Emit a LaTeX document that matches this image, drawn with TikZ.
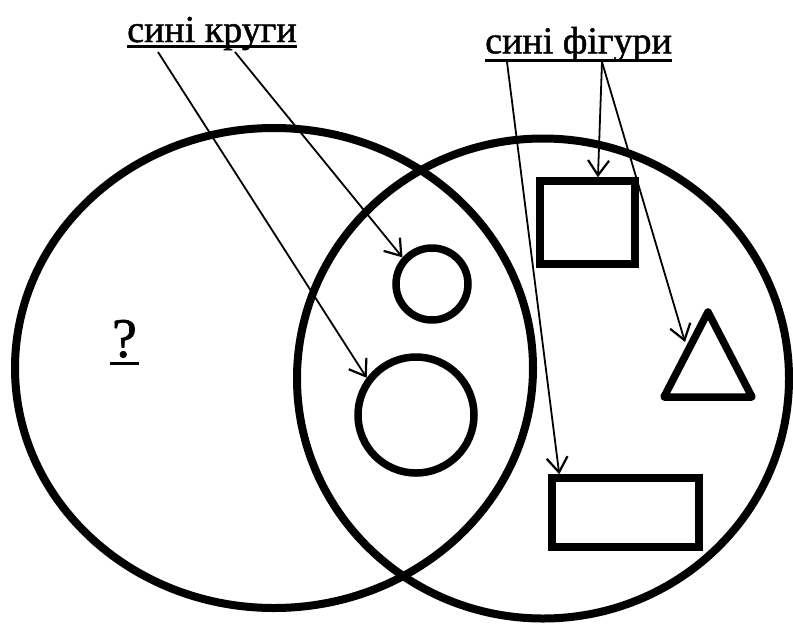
\documentclass[tikz,border=0pt]{standalone}
\usepackage{fontspec}
\setmainfont[FakeBold=1.2]{Liberation Serif}
\usetikzlibrary{arrows.meta,calc}
\begin{document}
\begin{tikzpicture}[x=1pt,y=-1pt,
  set/.style={line width=8pt},
  fig/.style={draw,line width=7.5pt,inner sep=0pt},
  ptr/.style={line width=1.8pt,-{Straight Barb[length=15pt,width=21pt,line width=2.2pt]}},
  lbl/.style={inner sep=0pt,anchor=base west,font=\fontsize{38}{40}\selectfont},
  uline/.style={line width=3pt}]
\useasboundingbox (0,0) rectangle (793,630);
% two sets
\draw[set] (274,368) ellipse [x radius=259,y radius=240];
\draw[set] (543,378.5) ellipse [x radius=246,y radius=240];
% figures
\node[fig,circle,minimum size=72pt] (smc) at (432,284) {};
\node[fig,circle,minimum size=116pt] (bgc) at (416,415) {};
\node[fig,rectangle,minimum width=95pt,minimum height=83pt] (r1) at (587.5,222.5) {};
\node[fig,rectangle,minimum width=147pt,minimum height=69pt] (r2) at (625.5,512.5) {};
\coordinate (ta) at (708,312);
\coordinate (tb) at (664,397);
\coordinate (tc) at (752,397);
\draw[line width=7.5pt,line join=round] (ta) -- (tb) -- (tc) -- cycle;
\coordinate (tl) at (685,342);
% labels
\node[lbl] (l1) at (127,42) {сині круги};
\draw[uline] ([yshift=-4.5pt]l1.base west) -- ([yshift=-4.5pt]l1.base east);
\node[lbl] (l2) at (485,53.3) {сині фігури};
\draw[uline] ([yshift=-6.7pt]l2.base west) -- ([yshift=-6.7pt]l2.base east);
\node[inner sep=0pt,anchor=base,font=\fontsize{56}{60}\selectfont] (q) at (124.5,357) {?};
\draw[uline] ([yshift=-6pt,xshift=-2pt]q.base west) -- ([yshift=-6pt,xshift=2pt]q.base east);
% pointers
\coordinate (s1) at (158,52);
\coordinate (s2) at (235,52);
\coordinate (s3) at (507,62);
\coordinate (s4) at (602,62);
\draw[ptr] (s1) -- (bgc.143);
\draw[ptr] (s2) -- (smc.138);
\draw[ptr] (s3) -- (r2.150);
\draw[ptr] (s4) -- (r1.77);
\draw[ptr] (s4) -- (tl);
\end{tikzpicture}
\end{document}
